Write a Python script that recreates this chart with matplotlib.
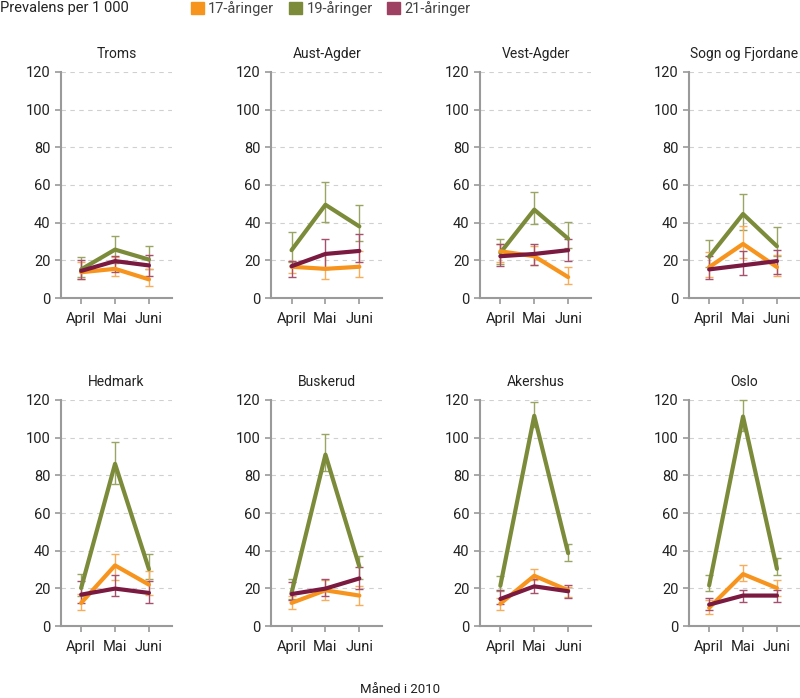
"""Prevalens per 1 000 etter fylke og alder, april-juni 2010."""

import matplotlib

matplotlib.use("Agg")
import matplotlib.pyplot as plt
from matplotlib.patches import Patch

plt.rcParams["font.family"] = ["Roboto", "DejaVu Sans"]

months = ["April", "Mai", "Juni"]
counties = ["Troms", "Aust-Agder", "Vest-Agder", "Sogn og Fjordane",
            "Hedmark", "Buskerud", "Akershus", "Oslo"]
groups = ["17-åringer", "19-åringer", "21-åringer"]

# value, lower end of error bar, upper end of error bar, per county
age17 = [[13.7, 15.5, 9.9], [16.6, 15.5, 16.6], [24.8, 22.2, 11.1], [16.4, 28.7, 16.4],
         [12.3, 32.2, 22.0], [12.3, 19.0, 16.2], [11.9, 26.7, 19.0], [9.7, 27.6, 20.2]]
age17_lo = [[9.9, 11.6, 6.3], [13.4, 10.2, 11.3], [19.0, 17.6, 7.6], [11.3, 21.3, 11.6],
            [8.4, 24.6, 16.7], [9.1, 14.1, 11.4], [8.8, 24.2, 15.5], [6.5, 23.7, 15.8]]
age17_hi = [[19.0, 21.8, 15.2], [19.6, 24.0, 24.7], [28.9, 27.8, 16.6], [24.5, 38.0, 22.6],
            [17.2, 38.1, 29.0], [15.8, 24.6, 21.1], [14.9, 30.2, 20.7], [14.1, 32.2, 24.3]]

age19 = [[15.2, 25.7, 20.4], [25.4, 49.5, 38.0], [24.0, 46.9, 31.5], [21.9, 44.6, 27.5],
         [20.2, 86.1, 30.2], [17.6, 91.0, 31.6], [21.4, 111.6, 38.7], [21.6, 111.2, 30.4]]
age19_lo = [[11.0, 18.5, 15.5], [19.0, 40.4, 30.1], [18.0, 39.3, 26.4], [16.4, 36.1, 22.2],
            [15.8, 75.2, 25.0], [14.6, 82.3, 25.1], [18.5, 105.5, 34.8], [18.8, 103.7, 26.9]]
age19_hi = [[21.7, 32.8, 27.5], [35.2, 61.5, 49.5], [31.4, 56.4, 40.5], [30.8, 55.2, 37.9],
            [27.6, 97.9, 38.5], [25.1, 101.9, 37.4], [26.4, 119.0, 43.5], [26.9, 120.0, 36.0]]

age21 = [[14.4, 19.6, 17.3], [16.9, 23.4, 25.0], [22.2, 23.4, 25.4], [15.2, 17.4, 19.6],
         [16.7, 19.9, 17.6], [17.0, 19.9, 25.3], [14.4, 21.1, 18.5], [11.4, 16.2, 16.2]]
age21_lo = [[10.2, 13.9, 11.6], [11.3, 15.2, 19.2], [16.9, 17.8, 19.9], [10.2, 12.2, 13.0],
            [12.0, 15.8, 12.0], [13.7, 15.8, 19.7], [11.8, 17.6, 14.9], [8.8, 12.7, 12.7]]
age21_hi = [[20.4, 22.2, 23.0], [19.6, 31.4, 34.0], [28.9, 28.7, 31.4], [22.2, 24.8, 25.7],
            [23.7, 26.9, 24.1], [23.4, 25.1, 31.6], [19.0, 24.9, 22.0], [14.8, 19.3, 19.3]]

series = [
    (age19, age19_lo, age19_hi, "#7b8b3a", "#9aa564"),
    (age17, age17_lo, age17_hi, "#f7941d", "#f8ad5a"),
    (age21, age21_lo, age21_hi, "#7a1a40", "#a4506f"),
]

fig = plt.figure(figsize=(8, 6.98), dpi=100)
grey = "#9a9a9a"
lefts = [0.076, 0.339, 0.600, 0.861]
bottoms = [0.573, 0.103]

for i, county in enumerate(counties):
    ax = fig.add_axes([lefts[i % 4], bottoms[i // 4], 0.139, 0.324])
    x = range(len(months))
    for vals, lo, hi, col, ecol in series:
        v = vals[i]
        yerr = [[v[k] - lo[i][k] for k in x], [hi[i][k] - v[k] for k in x]]
        ax.errorbar(x, v, yerr=yerr, fmt="none", ecolor=ecol, elinewidth=1,
                    capsize=3, capthick=1, zorder=2, clip_on=False)
        ax.plot(x, v, color=col, lw=3, solid_capstyle="round", zorder=3)
    ax.set_xlim(-0.6, 2.68)
    ax.set_ylim(0, 120)
    ax.set_yticks(range(0, 121, 20))
    ax.set_xticks(list(x))
    ax.set_xticklabels(months)
    ax.grid(axis="y", color="#d0d0d0", linestyle=(0, (4, 4)), lw=0.8)
    ax.set_axisbelow(True)
    for s in ("top", "right"):
        ax.spines[s].set_visible(False)
    for s in ("left", "bottom"):
        ax.spines[s].set_color(grey)
        ax.spines[s].set_linewidth(1.5)
    ax.tick_params(colors=grey, labelcolor="#222222", labelsize=10.5, width=1.2, length=4)
    ax.tick_params(axis="x", pad=6)
    ax.set_title(county, fontsize=10, color="#222222", pad=10)

fig.text(0.0, 0.988, "Prevalens per 1 000", fontsize=10.5, color="#222222", va="center")
handles = [Patch(color=c) for c in ("#f7941d", "#7b8b3a", "#9e4062")]
fig.legend(handles, groups, loc="center left", bbox_to_anchor=(0.222, 0.988), ncol=3,
           frameon=False, fontsize=10.5, handlelength=0.9, handleheight=0.9,
           handletextpad=0.3, columnspacing=1.0, labelcolor="#444444")
fig.text(0.5, 0.012, "Måned i 2010", ha="center", va="center", fontsize=9.5, color="#222222")

fig.savefig("out.png", dpi=100)
